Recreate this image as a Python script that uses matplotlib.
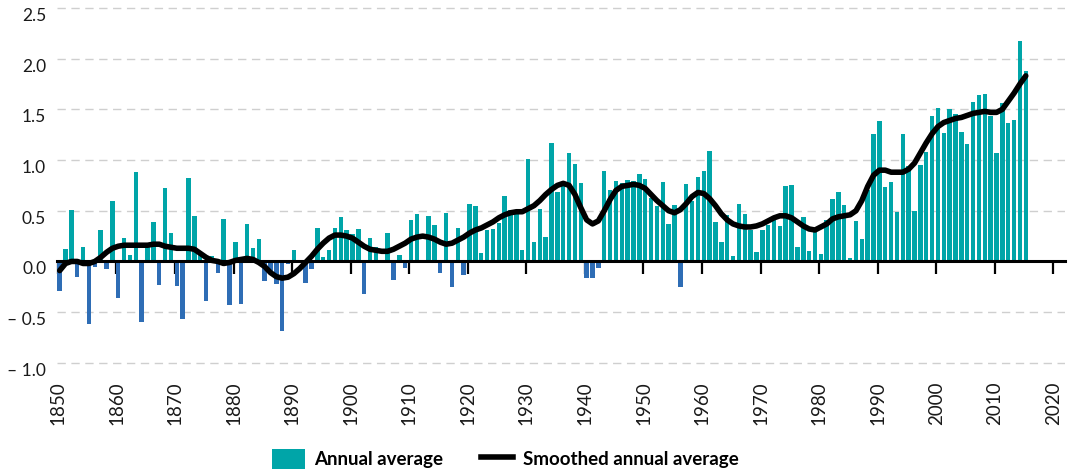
import matplotlib
matplotlib.use('Agg')
import matplotlib.pyplot as plt
import numpy as np
from matplotlib.lines import Line2D
from matplotlib.patches import Patch

plt.rcParams['font.family'] = ['Lato', 'DejaVu Sans']

years = np.arange(1850, 2016)

# annual mean anomaly, one value per year 1850-2015
annual = [
    -0.29, 0.12, 0.51, -0.15, 0.14, -0.62, -0.05, 0.31, -0.07, 0.60,   # 1850s
    -0.36, 0.23, 0.06, 0.88, -0.60, 0.18, 0.39, -0.23, 0.72, 0.28,     # 1860s
    -0.24, -0.57, 0.82, 0.45, 0.08, -0.39, 0.05, -0.11, 0.42, -0.43,   # 1870s
    0.19, -0.42, 0.37, 0.13, 0.22, -0.19, -0.10, -0.22, -0.69, -0.03,  # 1880s
    0.11, -0.02, -0.21, -0.07, 0.33, 0.04, 0.11, 0.33, 0.44, 0.31,     # 1890s
    0.27, 0.32, -0.32, 0.23, 0.14, 0.01, 0.28, -0.18, 0.06, -0.06,     # 1900s
    0.41, 0.47, 0.01, 0.45, 0.36, -0.11, 0.48, -0.25, 0.33, -0.13,     # 1910s
    0.57, 0.55, 0.08, 0.31, 0.32, 0.38, 0.65, 0.51, 0.47, 0.11,        # 1920s
    1.01, 0.19, 0.52, 0.24, 1.17, 0.68, 0.74, 1.07, 0.96, 0.77,        # 1930s
    -0.16, -0.16, -0.06, 0.89, 0.70, 0.79, 0.77, 0.80, 0.79, 0.86,     # 1940s
    0.81, 0.63, 0.55, 0.78, 0.37, 0.56, -0.25, 0.76, 0.60, 0.83,       # 1950s
    0.89, 1.09, 0.39, 0.19, 0.46, 0.05, 0.57, 0.47, 0.31, 0.09,        # 1960s
    0.31, 0.36, 0.41, 0.35, 0.74, 0.75, 0.14, 0.44, 0.10, 0.31,        # 1970s
    0.07, 0.41, 0.62, 0.68, 0.56, 0.03, 0.40, 0.22, 0.70, 1.26,        # 1980s
    1.38, 0.73, 0.78, 0.49, 1.26, 0.94, 0.50, 0.95, 1.08, 1.43,        # 1990s
    1.51, 1.27, 1.50, 1.45, 1.28, 1.16, 1.57, 1.64, 1.65, 1.43,        # 2000s
    1.07, 1.56, 1.37, 1.39, 2.17, 1.88,                                # 2010s
]

smoothed = [
    -0.09, -0.02, 0.00, 0.00, -0.02, -0.02, 0.00, 0.04, 0.09, 0.13,
    0.15, 0.16, 0.16, 0.16, 0.16, 0.16, 0.17, 0.17, 0.15, 0.14,
    0.13, 0.13, 0.13, 0.12, 0.08, 0.04, 0.01, 0.00, -0.02, -0.01,
    0.01, 0.02, 0.03, 0.02, -0.01, -0.05, -0.11, -0.15, -0.165, -0.155,
    -0.12, -0.07, -0.01, 0.05, 0.12, 0.18, 0.23, 0.26, 0.26, 0.25,
    0.23, 0.19, 0.15, 0.12, 0.11, 0.10, 0.10, 0.12, 0.15, 0.18,
    0.22, 0.24, 0.25, 0.24, 0.22, 0.19, 0.17, 0.18, 0.21, 0.24,
    0.28, 0.31, 0.33, 0.36, 0.39, 0.43, 0.46, 0.48, 0.49, 0.49,
    0.52, 0.55, 0.60, 0.66, 0.71, 0.75, 0.77, 0.75, 0.66, 0.53,
    0.41, 0.37, 0.40, 0.50, 0.61, 0.70, 0.74, 0.75, 0.76, 0.75,
    0.72, 0.66, 0.60, 0.55, 0.50, 0.48, 0.51, 0.57, 0.64, 0.68,
    0.67, 0.62, 0.55, 0.47, 0.41, 0.37, 0.35, 0.34, 0.34, 0.35,
    0.37, 0.40, 0.43, 0.45, 0.45, 0.43, 0.39, 0.35, 0.32, 0.31,
    0.34, 0.37, 0.42, 0.44, 0.45, 0.46, 0.50, 0.60, 0.74, 0.85,
    0.90, 0.90, 0.88, 0.88, 0.88, 0.91, 0.97, 1.07, 1.17, 1.26,
    1.33, 1.37, 1.39, 1.41, 1.42, 1.44, 1.46, 1.47, 1.48, 1.47,
    1.47, 1.50, 1.58, 1.66, 1.75, 1.83,
]

y_ticks = [-1.0, -0.5, 0.0, 0.5, 1.0, 1.5, 2.0, 2.5]
y_tick_labels = ['\u2013 1.0', '\u2013 0.5', '0.0', '0.5', '1.0', '1.5', '2.0', '2.5']
decades = np.arange(1850, 2030, 10)

TEAL = '#00a5a8'
BLUE = '#2e6db5'

annual = np.asarray(annual)
bar_colors = np.where(annual >= 0, TEAL, BLUE)

fig = plt.figure(figsize=(10.68, 4.71), dpi=100)
ax = fig.add_axes([0.0537, 0.2253, 0.9435, 0.7622])

x = years + 0.3
ax.bar(x, annual, width=0.76, color=bar_colors, zorder=1)
ax.plot(x, smoothed, color='black', lw=4, solid_capstyle='round',
        solid_joinstyle='round', zorder=4)

ax.set_xlim(1849.9, 2022)
ax.set_ylim(-1.02, 2.52)
ax.set_yticks(y_ticks)
ax.set_yticklabels(y_tick_labels)
for lbl in ax.get_yticklabels():
    lbl.set_verticalalignment('top')
ax.yaxis.grid(True, linestyle=(0, (6, 4)), lw=1, color='#cfcfcf')
ax.set_axisbelow(True)

for side in ['left', 'right', 'top']:
    ax.spines[side].set_visible(False)
# zero line carries the decade ticks
ax.spines['bottom'].set_position(('data', 0))
ax.spines['bottom'].set_linewidth(2.2)
ax.spines['bottom'].set_zorder(3)
ax.set_xticks(decades)
ax.tick_params(axis='x', direction='out', length=9, width=1.6, labelbottom=False)
ax.tick_params(axis='y', length=0, pad=8, labelsize=12.5, labelcolor='#1a1a1a')

# year labels sit below the plot area
sec = ax.secondary_xaxis('bottom')
sec.set_xticks(decades)
sec.tick_params(length=0, pad=12, labelsize=13.5, labelrotation=90, labelcolor='#1a1a1a')
sec.spines['bottom'].set_visible(False)

handles = [
    Patch(facecolor=TEAL, edgecolor='none', label='Annual average'),
    Line2D([], [], color='black', lw=4, label='Smoothed annual average'),
]
fig.legend(handles=handles, loc='center', bbox_to_anchor=(0.473, 0.026), ncol=2,
           frameon=False, prop={'weight': 'bold', 'size': 13.5}, handlelength=1.75,
           handleheight=1.25, handletextpad=0.5, columnspacing=2.0)

fig.savefig('out.png', dpi=100)
plt.close(fig)
